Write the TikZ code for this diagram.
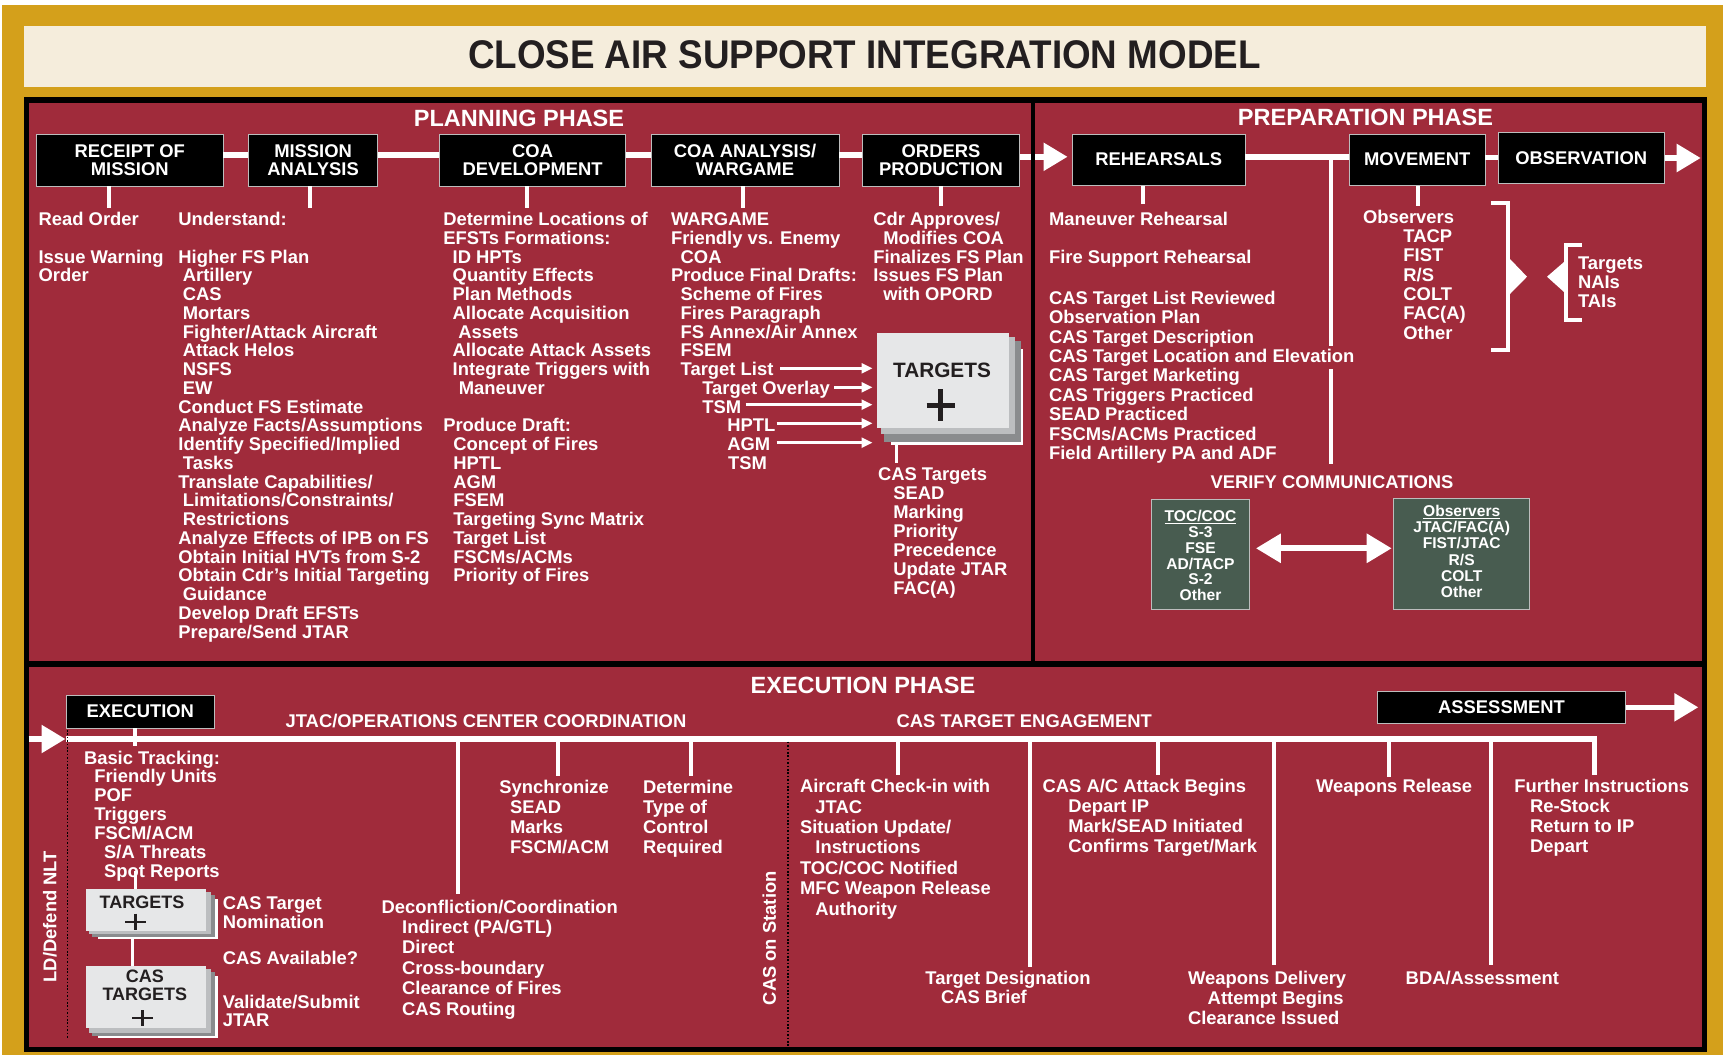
\documentclass[tikz,border=0pt]{standalone}
\usepackage{fontspec}
\setmainfont{Liberation Sans}
\newfontfamily\titlefont{Liberation Sans}[FakeStretch=0.92]
\usetikzlibrary{arrows.meta}
\definecolor{gold}{HTML}{D4A01B}
\definecolor{cream}{HTML}{F5EDDC}
\definecolor{crimson}{HTML}{A02B3B}
\definecolor{ink}{HTML}{231F20}
\definecolor{slate}{HTML}{485C50}
\definecolor{pga}{HTML}{E6E7E8}
\definecolor{pgb}{HTML}{BCBEC0}
\definecolor{pgc}{HTML}{8A8C8E}
\definecolor{edge}{HTML}{BDBDBD}
\newcommand\tbl[1]{\parbox[t]{700pt}{\selectfont\lineskiplimit=-100pt\lineskip=0pt\raggedright #1}}
\newcommand\tbc[1]{\begin{tabular}[t]{@{}c@{}}#1\end{tabular}}
\newcommand\idt[1]{\hspace*{#1pt}}
\newcommand\blank{\mbox{}}
\begin{document}
\begin{tikzpicture}[x=1pt,y=-1pt,
  wt/.style={text=white, inner sep=0pt, outer sep=0pt, anchor=base west, font=\bfseries\fontsize{18.4}{#1}\selectfont},
  wt/.default=18.75,
  wtc/.style={wt=#1, anchor=base},
  wtc/.default=18.75,
  phase/.style={text=white, inner sep=0pt, anchor=base, font=\bfseries\fontsize{23.5}{24}\selectfont},
  bbox/.style={fill=black, draw=edge, line width=0.9pt, text=white, align=center, inner sep=0pt, font=\bfseries\fontsize{18.4}{18.4}\selectfont},
  gbox/.style={fill=slate, draw=edge, line width=1pt, inner sep=0pt},
  gtxt/.style={text=white, inner sep=0pt, anchor=base, font=\bfseries\fontsize{15.6}{#1}\selectfont},
  gtxt/.default=15.8,
  pfront/.style={fill=pga, inner sep=0pt},
  dark/.style={text=ink, inner sep=0pt, anchor=base},
  wline/.style={white, line width=5.5pt},
  tick/.style={white, line width=4pt},
  thinl/.style={white, line width=3pt},
  bigarrow/.style={white, line width=5.5pt, -{Triangle[length=24pt,width=27pt]}},
  tarr/.style={white, line width=2.6pt, -{Triangle[length=11pt,width=10pt]}, shorten >=4.6pt},
  dbl/.style={white, line width=6pt, {Triangle[length=25pt,width=28pt]}-{Triangle[length=25pt,width=28pt]}},
  dots/.style={black, line width=1.6pt, dash pattern=on 1.6pt off 1.8pt},
]
\useasboundingbox (0,0) rectangle (1723,1055);
% background and frame
\fill[white] (0,0) rectangle (1723,1055);
\fill[gold] (2,5) rectangle (1723,1055);
\fill[cream] (24,26) rectangle (1706,87.3);
\node[text=ink, inner sep=0pt, anchor=base, font=\titlefont\bfseries\fontsize{40}{40}\selectfont] (title) at (864.3,68.8) {CLOSE AIR SUPPORT INTEGRATION MODEL};
\fill[black] (24,97) rectangle (1706.5,1051.7);
\fill[crimson] (28.5,102.5) rectangle (1030.7,660.7);
\fill[crimson] (1035.3,102.5) rectangle (1701.7,660.7);
\fill[crimson] (28.7,667) rectangle (1701.7,1046.7);

% phase headings
\node[phase] (ph1) at (519,126.7) {PLANNING PHASE};
\node[phase] (ph2) at (1365.5,125) {PREPARATION PHASE};
\node[phase] (ph3) at (863,693.3) {EXECUTION PHASE};

% planning boxes
\node[bbox, minimum width=186.5pt, minimum height=52pt] (rom) at (129.75,160) {RECEIPT OF\\MISSION};
\node[bbox, minimum width=129pt, minimum height=52pt] (ma) at (313.1,160) {MISSION\\ANALYSIS};
\node[bbox, minimum width=186.1pt, minimum height=52pt] (coad) at (532.65,160) {COA\\DEVELOPMENT};
\node[bbox, minimum width=188pt, minimum height=52pt] (coaa) at (745,160) {COA ANALYSIS/\\WARGAME};
\node[bbox, minimum width=156.6pt, minimum height=52pt] (op) at (941,160) {ORDERS\\PRODUCTION};
% preparation boxes
\node[bbox, minimum width=172.5pt, minimum height=51.3pt] (reh) at (1158.75,159.65) {REHEARSALS};
\node[bbox, minimum width=135.4pt, minimum height=51.3pt] (mov) at (1417.3,159.65) {MOVEMENT};
\node[bbox, minimum width=166.4pt, minimum height=51.4pt] (obs) at (1581.2,158) {OBSERVATION};

% planning connectors
\coordinate (pl) at (0,155);
\coordinate (pr) at (0,156.8);
\coordinate (pm) at (0,157.5);
\draw[wline] (rom.east |- pl) -- (ma.west |- pl);
\draw[wline] (ma.east |- pl) -- (coad.west |- pl);
\draw[wline] (coad.east |- pl) -- (coaa.west |- pl);
\draw[wline] (coaa.east |- pl) -- (op.west |- pl);
\draw[bigarrow, shorten >=4.5pt] (op.east |- pr) -- (reh.west |- pr);
\draw[wline] (reh.east |- pr) -- (mov.west |- pr);
\draw[wline] (mov.east |- pm) -- (obs.west |- pm);
\coordinate (obsT) at (1700.7,158);
\draw[bigarrow] (obs.east |- obsT) -- (obsT);

% ticks under boxes
\coordinate (t1) at (108.5,208.3);
\coordinate (t2) at (310,208.3);
\coordinate (t3) at (526.5,208.3);
\coordinate (t4) at (743,208.3);
\coordinate (t5) at (941,206);
\coordinate (t6) at (1142.5,204.3);
\coordinate (t7) at (1417.7,206);
\draw[tick] (t1 |- rom.south) -- (t1);
\draw[tick] (t2 |- ma.south) -- (t2);
\draw[tick] (t3 |- coad.south) -- (t3);
\draw[tick] (t4 |- coaa.south) -- (t4);
\draw[tick] (t5 |- op.south) -- (t5);
\draw[tick] (t6 |- reh.south) -- (t6);
\draw[tick] (t7 |- mov.south) -- (t7);
% preparation long vertical
\coordinate (v1) at (1330.5,346);
\coordinate (v2) at (1330.5,369);
\coordinate (v3) at (1330.5,464.3);
\draw[tick] (v1 |- pr) -- (v1);
\draw[tick] (v2) -- (v3);

% planning texts
\node[wt] (c1) at (38.6,225.7) {\tbl{Read Order\\\blank\\Issue Warning\\Order}};
\node[wt] (c2) at (178.4,225.7) {\tbl{Understand:\\\blank\\Higher FS Plan\\\idt{4.5}Artillery\\\idt{4.5}CAS\\\idt{4.5}Mortars\\\idt{4.5}Fighter/Attack Aircraft\\\idt{4.5}Attack Helos\\\idt{4.5}NSFS\\\idt{4.5}EW\\Conduct FS Estimate\\Analyze Facts/Assumptions\\Identify Specified/Implied\\\idt{4.5}Tasks\\Translate Capabilities/\\\idt{4.5}Limitations/Constraints/\\\idt{4.5}Restrictions\\Analyze Effects of IPB on FS\\Obtain Initial HVTs from S-2\\Obtain Cdr’s Initial Targeting\\\idt{4.5}Guidance\\Develop Draft EFSTs\\Prepare/Send JTAR}};
\node[wt] (c3) at (443.3,225.7) {\tbl{Determine Locations of\\EFSTs Formations:\\\idt{9.4}ID HPTs\\\idt{9.4}Quantity Effects\\\idt{9.4}Plan Methods\\\idt{9.4}Allocate Acquisition\\\idt{15}Assets\\\idt{9.4}Allocate Attack Assets\\\idt{9.4}Integrate Triggers with\\\idt{15.5}Maneuver\\\blank\\Produce Draft:\\\idt{10}Concept of Fires\\\idt{10}HPTL\\\idt{10}AGM\\\idt{10}FSEM\\\idt{10}Targeting Sync Matrix\\\idt{10}Target List\\\idt{10}FSCMs/ACMs\\\idt{10}Priority of Fires}};
\node[wt] (c4) at (671,225.7) {\tbl{WARGAME\\Friendly vs. Enemy\\\idt{9.7}COA\\Produce Final Drafts:\\\idt{9.7}Scheme of Fires\\\idt{9.7}Fires Paragraph\\\idt{9.7}FS Annex/Air Annex\\\idt{9.7}FSEM\\\idt{9.7}Target List\\\idt{31.3}Target Overlay\\\idt{31.3}TSM\\\idt{56.3}HPTL\\\idt{56.3}AGM\\\idt{57}TSM}};
\node[wt] (c5) at (873.3,225.7) {\tbl{Cdr Approves/\\\idt{10}Modifies COA\\Finalizes FS Plan\\Issues FS Plan\\\idt{10}with OPORD}};

% TARGETS stack (planning)
\fill[white] (890.7,349) rectangle (1023,445);
\fill[pgc] (884,340.7) rectangle (1020.5,441.7);
\fill[pgb] (880.7,337) rectangle (1015,433.5);
\node[pfront, minimum width=131.7pt, minimum height=95pt] (tgt) at (943.15,380.8) {};
\node[dark, font=\bfseries\fontsize{20.8}{21}\selectfont] (tgtl) at (942,377.5) {TARGETS};
\draw[ink, line width=5pt] (926.7,405) -- (954.7,405) (940.7,389) -- (940.7,421);
% arrows into TARGETS
\coordinate (a1) at (780,368.3);
\coordinate (a2) at (834,387.3);
\coordinate (a3) at (745.7,404.7);
\coordinate (a4) at (776.7,423.3);
\coordinate (a5) at (776.7,442.7);
\draw[tarr] (a1) -- (a1 -| tgt.west);
\draw[tarr] (a2) -- (a2 -| tgt.west);
\draw[tarr] (a3) -- (a3 -| tgt.west);
\draw[tarr] (a4) -- (a4 -| tgt.west);
\draw[tarr] (a5) -- (a5 -| tgt.west);
\coordinate (ctA) at (896.5,445);
\coordinate (ctB) at (896.5,463.3);
\draw[thinl] (ctA) -- (ctB);
\node[wt=18.9] (cast) at (878,480.7) {\tbl{CAS Targets\\\idt{15.3}SEAD\\\idt{15.3}Marking\\\idt{15.3}Priority\\\idt{15.3}Precedence\\\idt{15.3}Update JTAR\\\idt{15.3}FAC(A)}};

% preparation texts
\node[wt=19.15] (p1) at (1049,225) {\tbl{Maneuver Rehearsal\\\blank\\Fire Support Rehearsal}};
\node[wt=19.4] (p2) at (1049,304.3) {\tbl{CAS Target List Reviewed\\Observation Plan\\CAS Target Description\\CAS Target Location and Elevation\\CAS Target Marketing\\CAS Triggers Practiced\\SEAD Practiced\\FSCMs/ACMs Practiced\\Field Artillery PA and ADF}};
\node[wt=19.3] (p3) at (1363,223.3) {\tbl{Observers\\\idt{40.4}TACP\\\idt{40.4}FIST\\\idt{40.4}R/S\\\idt{40.4}COLT\\\idt{40.4}FAC(A)\\\idt{40.4}Other}};
\node[wt=19.35] (p4) at (1578,269) {\tbl{Targets\\NAIs\\TAIs}};
% brackets
\draw[tick] (1491,202.5) -- (1507.6,202.5) -- (1507.6,350) -- (1491,350);
\fill[white] (1509,258) -- (1527,276.7) -- (1509,295) -- cycle;
\draw[tick] (1582,244.7) -- (1566,244.7) -- (1566,320) -- (1582,320);
\fill[white] (1564,262) -- (1547,276.7) -- (1564,292) -- cycle;

% verify communications
\node[wtc] (vc) at (1332,488.3) {VERIFY COMMUNICATIONS};
\node[gbox, minimum width=98.2pt, minimum height=110pt] (toc) at (1200.5,554.3) {};
\node[gbox, minimum width=136.4pt, minimum height=111pt] (obsv) at (1461.7,553.8) {};
\node[gtxt=15.66] (toct) at (1200.5,521.7) {\tbc{\underline{TOC/COC}\\S-3\\FSE\\AD/TACP\\S-2\\Other}};
\node[gtxt=16] (obst) at (1461.7,516.7) {\tbc{\underline{Observers}\\JTAC/FAC(A)\\FIST/JTAC\\R/S\\COLT\\Other}};
\coordinate (da) at (0,548.3);
\draw[dbl, shorten <=5.8pt, shorten >=1.3pt] (toc.east |- da) -- (obsv.west |- da);

% separator between planning and preparation
\fill[black] (1030.7,97) rectangle (1035.3,662);

% execution
\node[bbox, minimum width=148.3pt, minimum height=32.7pt] (exe) at (140.35,711.65) {EXECUTION};
\node[bbox, minimum width=248.4pt, minimum height=32pt] (ass) at (1501.5,707.3) {ASSESSMENT};
\coordinate (asT) at (1698.3,707.3);
\draw[bigarrow] (ass.east) -- (asT);
\node[wt] (jtac) at (285.6,727.7) {JTAC/OPERATIONS CENTER COORDINATION};
\node[wt] (cte) at (896.6,727.7) {CAS TARGET ENGAGEMENT};
\coordinate (exL) at (28.7,739);
\coordinate (exS) at (65.5,739);
\coordinate (fiT) at (1594.7,775);
\coordinate (ml) at (0,739);
\draw[bigarrow] (exL) -- (exS);
\draw[wline] (exS) -| (fiT);
% dotted lines
\coordinate (d1a) at (67.4,730);
\coordinate (d1b) at (67.4,1038.3);
\coordinate (d2a) at (788,741.7);
\coordinate (d2b) at (788,1046.7);
\draw[dots] (d1a) -- (d1b);
\draw[dots] (d2a) -- (d2b);
% ticks from the main line
\coordinate (e0) at (135.4,746);
\draw[tick] (e0 |- exe.south) -- (e0);
\coordinate (e1) at (458,894.3);
\coordinate (e2) at (557.5,776);
\coordinate (e3) at (691,776);
\coordinate (e4) at (898.3,775);
\coordinate (e5) at (1030.3,966.7);
\coordinate (e6) at (1158.3,775);
\coordinate (e7) at (1274.2,965);
\coordinate (e8) at (1389,776.7);
\coordinate (e9) at (1491.3,965);
\foreach \e in {e1,e2,e3,e4,e5,e6,e7,e8,e9} {\draw[tick] (\e |- ml) -- (\e);}

% small TARGETS stacks
\fill[white] (98,899) rectangle (217.6,939.3);
\fill[pgc] (92,895) rectangle (214.5,937);
\fill[pgb] (89,892) rectangle (210.5,934);
\node[pfront, minimum width=119.8pt, minimum height=41.4pt] (tg2) at (145.9,910) {};
\node[dark, font=\bfseries\fontsize{18}{18}\selectfont] (tg2l) at (142,908.3) {TARGETS};
\draw[ink, line width=2.2pt] (125.1,921.7) -- (145.7,921.7) (135.4,913.7) -- (135.4,929.7);
\fill[white] (98,976) rectangle (217.6,1038.3);
\fill[pgc] (92,972) rectangle (214.5,1036);
\fill[pgb] (89,969) rectangle (210.5,1033);
\node[pfront, minimum width=119.8pt, minimum height=62.3pt] (ct2) at (145.9,997.15) {};
\node[dark, font=\bfseries\fontsize{18}{18}\selectfont] (ct2l) at (144.9,982.7) {\tbc{CAS\\TARGETS}};
\draw[ink, line width=2.2pt] (132.2,1018.3) -- (152.8,1018.3) (142.5,1010.3) -- (142.5,1026.3);
\coordinate (sp) at (135.4,871);
\draw[thinl] (sp) -- (sp |- tg2.north);
\coordinate (k1) at (132,939.3);
\draw[thinl] (k1) -- (k1 |- ct2.north);

% execution texts
\node[wt=18.9] (bt) at (84,764) {\tbl{Basic Tracking:\\\idt{10.3}Friendly Units\\\idt{10.3}POF\\\idt{10.3}Triggers\\\idt{10.3}FSCM/ACM\\\idt{20.2}S/A Threats\\\idt{20.2}Spot Reports}};
\node[wt=19] (nom) at (222.8,909.3) {\tbl{CAS Target\\Nomination}};
\node[wt] (avl) at (222.8,964) {CAS Available?};
\node[wt=18.4] (val) at (222.8,1008.3) {\tbl{Validate/Submit\\JTAR}};
\node[wt=20.34] (dec) at (381.7,913.3) {\tbl{Deconfliction/Coordination\\\idt{20.5}Indirect (PA/GTL)\\\idt{20.5}Direct\\\idt{20.5}Cross-boundary\\\idt{20.5}Clearance of Fires\\\idt{20.5}CAS Routing}};
\node[wt=20.2] (syn) at (499.4,793.3) {\tbl{Synchronize\\\idt{10.6}SEAD\\\idt{10.6}Marks\\\idt{10.6}FSCM/ACM}};
\node[wt=20.2] (det) at (643,793.3) {\tbl{Determine\\Type of\\Control\\Required}};
\node[wt=20.4] (acf) at (800,792.7) {\tbl{Aircraft Check-in with\\\idt{15.4}JTAC\\Situation Update/\\\idt{15.4}Instructions\\TOC/COC Notified\\MFC Weapon Release\\\idt{15.4}Authority}};
\node[wt=20] (caa) at (1042.6,792.7) {\tbl{CAS A/C Attack Begins\\\idt{25.7}Depart IP\\\idt{25.7}Mark/SEAD Initiated\\\idt{25.7}Confirms Target/Mark}};
\node[wt=19.3] (tds) at (925.4,984) {\tbl{Target Designation\\\idt{15.6}CAS Brief}};
\node[wt=20] (wd) at (1188,984) {\tbl{Weapons Delivery\\\idt{19.7}Attempt Begins\\Clearance Issued}};
\node[wt] (wr) at (1316,792.7) {Weapons Release};
\node[wt] (bda) at (1405.7,984) {BDA/Assessment};
\node[wt=20] (fi) at (1514.3,792.7) {\tbl{Further Instructions\\\idt{15.7}Re-Stock\\\idt{15.7}Return to IP\\\idt{15.7}Depart}};
\node[text=white, inner sep=0pt, rotate=90, font=\bfseries\fontsize{18.4}{18.4}\selectfont] (ld) at (49.8,916.7) {LD/Defend NLT};
\node[text=white, inner sep=0pt, rotate=90, font=\bfseries\fontsize{18.4}{18.4}\selectfont] (cos) at (769.2,938.3) {CAS on Station};
\end{tikzpicture}
\end{document}
